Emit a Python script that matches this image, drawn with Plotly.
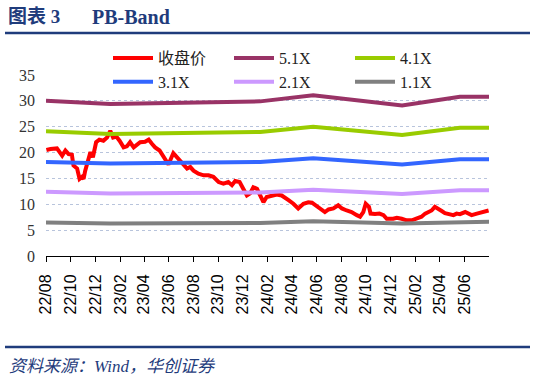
import plotly.graph_objects as go

# ---------------- data ----------------
close_dates = [
    "2022-08-02", "2022-08-12", "2022-08-28", "2022-09-05", "2022-09-10", "2022-09-18",
    "2022-09-26", "2022-10-04", "2022-10-08", "2022-10-17", "2022-10-23", "2022-10-29",
    "2022-11-02", "2022-11-06", "2022-11-12", "2022-11-19", "2022-11-25", "2022-11-29",
    "2022-12-03", "2022-12-11", "2022-12-21", "2022-12-30", "2023-01-07", "2023-01-14",
    "2023-01-22", "2023-01-30", "2023-02-09", "2023-02-17", "2023-02-25", "2023-03-06",
    "2023-03-14", "2023-03-22", "2023-04-03", "2023-04-12", "2023-04-20", "2023-04-28",
    "2023-05-09", "2023-05-19", "2023-05-31", "2023-06-12", "2023-06-21", "2023-07-03",
    "2023-07-16", "2023-07-24", "2023-08-01", "2023-08-13", "2023-08-26", "2023-09-07",
    "2023-09-19", "2023-10-02", "2023-10-14", "2023-10-26", "2023-11-04", "2023-11-12",
    "2023-11-23", "2023-12-02", "2023-12-11", "2023-12-19", "2023-12-27", "2024-01-05",
    "2024-01-13", "2024-01-21", "2024-01-29", "2024-02-11", "2024-02-23", "2024-03-06",
    "2024-03-15", "2024-03-23", "2024-04-04", "2024-04-16", "2024-04-29", "2024-05-11",
    "2024-05-20", "2024-05-28", "2024-06-09", "2024-06-21", "2024-06-30", "2024-07-12",
    "2024-07-24", "2024-08-02", "2024-08-14", "2024-08-26", "2024-09-08", "2024-09-16",
    "2024-09-24", "2024-09-30", "2024-10-08", "2024-10-12", "2024-10-23", "2024-11-03",
    "2024-11-13", "2024-11-21", "2024-12-07", "2024-12-16", "2024-12-28", "2025-01-09",
    "2025-01-22", "2025-02-03", "2025-02-15", "2025-02-24", "2025-03-04", "2025-03-12",
    "2025-03-20", "2025-03-28", "2025-04-06", "2025-04-14", "2025-04-26", "2025-05-05",
    "2025-05-13", "2025-05-21", "2025-06-03", "2025-06-11", "2025-06-19", "2025-07-02",
    "2025-07-09", "2025-07-20", "2025-07-31",
]
close_values = [
    20.5, 20.7, 20.8, 20.1, 19.4, 20.4,
    19.7, 19.6, 17.5, 16.9, 14.9, 15.3,
    14.9, 16.5, 18.1, 20.1, 19.1, 20.7,
    22.0, 22.5, 22.3, 22.9, 24.2, 22.9,
    23.1, 22.3, 21.0, 21.2, 22.0, 21.0,
    21.5, 22.0, 22.1, 22.5, 21.7, 21.0,
    20.4, 19.1, 17.7, 19.9, 19.1, 17.8,
    16.9, 17.2, 16.5, 15.9, 15.6, 15.6,
    15.3, 14.3, 14.0, 14.3, 13.7, 14.5,
    14.3, 13.0, 11.7, 12.1, 13.3, 13.0,
    11.7, 10.4, 11.4, 11.7, 11.9, 11.7,
    11.1, 10.8, 10.1, 9.2, 10.1, 10.4,
    10.3, 9.8, 9.2, 8.5, 9.0, 9.2,
    9.8, 9.2, 8.8, 8.5, 7.9, 7.6,
    8.5, 10.1, 9.5, 8.2, 8.1, 8.2,
    7.9, 7.2, 7.2, 7.4, 7.2, 6.9,
    6.9, 7.2, 7.6, 8.2, 8.5, 8.8,
    9.5, 9.2, 8.7, 8.3, 8.1, 7.9,
    8.2, 8.1, 8.5, 8.2, 7.9, 8.2,
    8.3, 8.5, 8.8,
]

band_dates = ["2022-08-01", "2023-01-07", "2024-01-13", "2024-05-23",
              "2024-12-29", "2025-05-21", "2025-08-01"]
band_5_1x = [30.0, 29.4, 29.9, 31.1, 29.1, 30.8, 30.8]
band_4_1x = [24.1, 23.6, 24.0, 25.0, 23.4, 24.8, 24.8]
band_3_1x = [18.2, 17.9, 18.2, 18.9, 17.7, 18.7, 18.7]
band_2_1x = [12.4, 12.1, 12.3, 12.8, 12.0, 12.7, 12.7]
band_1_1x = [6.5, 6.3, 6.4, 6.7, 6.3, 6.6, 6.6]

tick_dates = ["2022-08-01", "2022-10-01", "2022-12-01", "2023-02-01", "2023-04-01",
              "2023-06-01", "2023-08-01", "2023-10-01", "2023-12-01", "2024-02-01",
              "2024-04-01", "2024-06-01", "2024-08-01", "2024-10-01", "2024-12-01",
              "2025-02-01", "2025-04-01", "2025-06-01"]
tick_labels = ["22/08", "22/10", "22/12", "23/02", "23/04", "23/06", "23/08", "23/10",
               "23/12", "24/02", "24/04", "24/06", "24/08", "24/10", "24/12", "25/02",
               "25/04", "25/06"]

series = [
    ("收盘价", close_dates, close_values, "#FF0000"),
    ("5.1X", band_dates, band_5_1x, "#993366"),
    ("4.1X", band_dates, band_4_1x, "#99CC00"),
    ("3.1X", band_dates, band_3_1x, "#3366FF"),
    ("2.1X", band_dates, band_2_1x, "#CC99FF"),
    ("1.1X", band_dates, band_1_1x, "#808080"),
]

# ---------------- figure ----------------
W, H = 535, 382
ML, MR, MT, MB = 46, 46, 75, 126
PW, PH = W - ML - MR, H - MT - MB


def px2x(px):
    return (px - ML) / PW


def py2y(py):
    return (H - MB - py) / PH


NAVY = "#1F3C7C"
SERIF = "Liberation Serif, Noto Sans CJK SC, serif"

fig = go.Figure()
for name, xs, ys, color in series:
    fig.add_trace(go.Scatter(x=xs, y=ys, name=name, mode="lines",
                             line=dict(color=color, width=4)))

fig.update_layout(
    width=W, height=H,
    margin=dict(l=ML, r=MR, t=MT, b=MB, pad=0),
    paper_bgcolor="white", plot_bgcolor="white",
    showlegend=True,
    legend=dict(orientation="h", x=px2x(108), y=py2y(41), xanchor="left", yanchor="top",
                entrywidth=66, entrywidthmode="pixels", itemwidth=40,
                font=dict(family=SERIF, size=16, color="#222"),
                bgcolor="rgba(0,0,0,0)", tracegroupgap=0),
    xaxis=dict(type="date", range=["2022-08-01", "2025-08-01"],
               tickmode="array", tickvals=tick_dates, ticktext=tick_labels,
               tickangle=-90, ticks="outside", ticklen=5, tickcolor="#000", tickwidth=1,
               showline=True, linecolor="#000", linewidth=1, showgrid=False, zeroline=False,
               tickfont=dict(family="Liberation Sans, Arial, sans-serif", size=16, color="#000"),
               ticklabelstandoff=6, fixedrange=True),
    yaxis=dict(range=[0, 35], tickmode="linear", tick0=0, dtick=5,
               showgrid=True, gridcolor="#B8C4DC", griddash="dot", gridwidth=1,
               zeroline=False, showline=False, ticks="",
               tickfont=dict(family=SERIF, size=16, color="#333"),
               ticklabelstandoff=10, fixedrange=True),
)

# header / footer rules
for py in (33, 347):
    fig.add_shape(type="line", xref="paper", yref="paper",
                  x0=px2x(5), x1=px2x(530), y0=py2y(py), y1=py2y(py),
                  line=dict(color=NAVY, width=2.5))

fig.add_annotation(text="<b>图表 3</b>", xref="paper", yref="paper",
                   x=px2x(6), y=py2y(17), xanchor="left", yanchor="middle",
                   showarrow=False, font=dict(family=SERIF, size=19, color=NAVY))
fig.add_annotation(text="<b>PB-Band</b>", xref="paper", yref="paper",
                   x=px2x(90), y=py2y(17), xanchor="left", yanchor="middle",
                   showarrow=False, font=dict(family=SERIF, size=20, color=NAVY))
fig.add_annotation(text="<i>资料来源：Wind，华创证券</i>", xref="paper", yref="paper",
                   x=px2x(7), y=py2y(366), xanchor="left", yanchor="middle",
                   showarrow=False, font=dict(family=SERIF, size=17, color=NAVY))

fig.write_html("out.html")
